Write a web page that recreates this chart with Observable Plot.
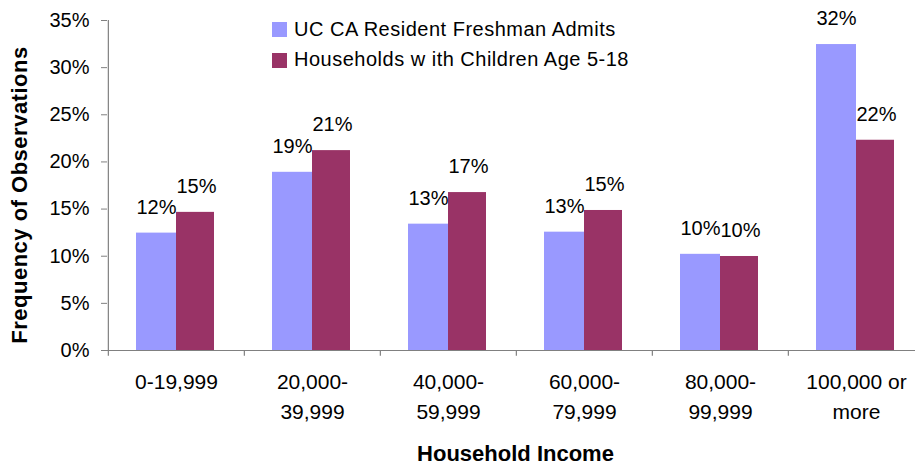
<!DOCTYPE html>
<html>
<head>
<meta charset="utf-8">
<script src="https://cdn.jsdelivr.net/npm/d3@7"></script>
<script src="https://cdn.jsdelivr.net/npm/@observablehq/plot@0.6"></script>
<style>
  html, body { margin: 0; padding: 0; background: #fff; overflow: hidden; }
  #wrap { position: relative; width: 915px; height: 468px; font-family: "Liberation Sans", Arial, sans-serif; }
  .leg { position: absolute; left: 272px; font-size: 20px; line-height: 20px; letter-spacing: 0.5px; color: #000; white-space: nowrap; }
  .leg .sw { position: absolute; left: 0; width: 15px; height: 15px; }
  .leg .lab { position: absolute; left: 22px; }
  #ytitle { position: absolute; left: 20px; top: 195px; font-size: 22px; line-height: 22px; font-weight: bold; letter-spacing: 0.5px; white-space: nowrap; color: #000;
            transform: translate(-50%, -50%) rotate(-90deg); }
</style>
</head>
<body>
<div id="wrap"></div>
<script>
const categories = ["0-19,999", "20,000-\n39,999", "40,000-\n59,999", "60,000-\n79,999", "80,000-\n99,999", "100,000 or\nmore"];
const seriesNames = ["UC CA Resident Freshman Admits", "Households w ith Children Age 5-18"];
const admits = [12.45, 18.9, 13.4, 12.55, 10.2, 32.45];
const households = [14.65, 21.2, 16.75, 14.85, 9.97, 22.3];
const yTicks = [0, 5, 10, 15, 20, 25, 30, 35];
const yTitle = "Frequency of Observations";
const xTitle = "Household Income";
const colors = ["#9999FF", "#993366"];

const admitsData = categories.map((c, i) => ({category: c, value: admits[i]}));
const householdsData = categories.map((c, i) => ({category: c, value: households[i]}));
const fmt = v => Math.round(v) + "%";
const font = "Liberation Sans, Arial, sans-serif";

const chart = Plot.plot({
  width: 915,
  height: 468,
  marginLeft: 107,
  marginRight: 0,
  marginTop: 20,
  marginBottom: 118,
  style: {fontFamily: font, fontSize: "20px", background: "#fff", color: "#000"},
  x: {domain: categories, range: [107, 924.6], padding: 0, axis: null},
  y: {domain: [0, 35], axis: null},
  marks: [
    Plot.barY(admitsData, {x: "category", y: "value", fill: colors[0], insetLeft: 28, insetRight: 68}),
    Plot.barY(householdsData, {x: "category", y: "value", fill: colors[1], insetLeft: 68, insetRight: 30}),
    Plot.text(admitsData, {x: "category", y: "value", text: d => fmt(d.value), dx: -20, dy: -26, fontSize: 20, fill: "#000"}),
    Plot.text(householdsData, {x: "category", y: "value", text: d => fmt(d.value), dx: 20, dy: -26, fontSize: 20, fill: "#000"}),
    Plot.ruleY([0], {stroke: "#808080", strokeWidth: 1.2}),
    Plot.ruleX([categories[0]], {x: d => d, dx: -68.15, y1: 0, y2: 35, stroke: "#808080", strokeWidth: 1.2}),
    Plot.ruleX(categories, {x: d => d, dx: -68.15, y1: 0, y2: -0.6, stroke: "#808080", strokeWidth: 1.2}),
    Plot.axisY(yTicks, {anchor: "left", tickSize: 6, tickPadding: 12, tickFormat: d => d + "%", label: null, fontSize: 20, letterSpacing: "0.5px", stroke: "#808080", fill: "#000"}),
    Plot.text(categories, {x: d => d, text: d => d, frameAnchor: "bottom", lineAnchor: "top", dy: 17, lineHeight: 1.43, fontSize: 21, fill: "#000"}),
    Plot.text([xTitle], {text: d => d, frameAnchor: "bottom", dx: 4, dy: 110, fontSize: 22, fontWeight: "bold", letterSpacing: "0.5px", fill: "#000"})
  ]
});

const wrap = document.getElementById("wrap");
wrap.appendChild(chart);
const yt = document.createElement("div");
yt.id = "ytitle";
yt.textContent = yTitle;
wrap.appendChild(yt);
seriesNames.forEach((name, i) => {
  const row = document.createElement("div");
  row.className = "leg";
  row.style.top = (19 + 30 * i) + "px";
  const sw = document.createElement("div");
  sw.className = "sw";
  sw.style.background = colors[i];
  sw.style.top = (3 + i) + "px";
  const lab = document.createElement("div");
  lab.className = "lab";
  lab.textContent = name;
  row.appendChild(sw);
  row.appendChild(lab);
  wrap.appendChild(row);
});
</script>
</body>
</html>
